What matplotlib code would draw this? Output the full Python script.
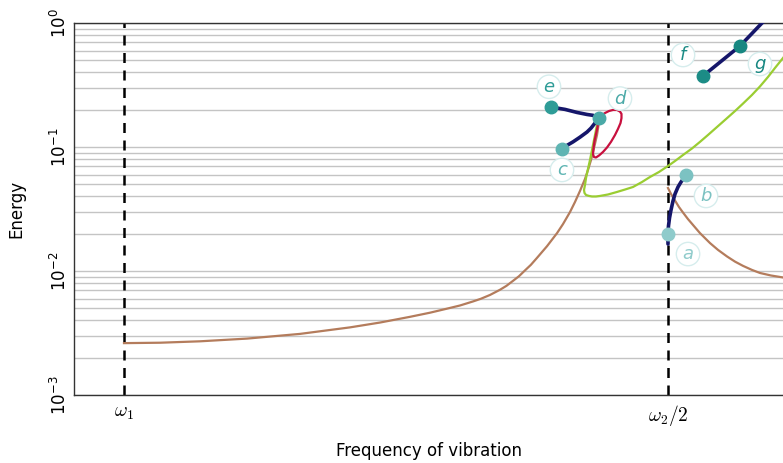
import matplotlib
matplotlib.use('Agg')
import matplotlib.pyplot as plt

# frequency in units of omega_1 (omega_1 = 1, omega_2/2 = 2)
branch_low_freq = [1.0000, 1.0662, 1.1397, 1.2261, 1.3235, 1.4154, 1.4706, 1.5257,
                   1.5625, 1.5938, 1.6176, 1.6415, 1.6560, 1.6728, 1.6912, 1.7030,
                   1.7151, 1.7260, 1.7371, 1.7480, 1.7592, 1.7776, 1.7960, 1.8070,
                   1.8199, 1.8290, 1.8382, 1.8474, 1.8529, 1.8585, 1.8640, 1.8695, 1.8732]
branch_low_energy = [0.00262, 0.00264, 0.00271, 0.00285, 0.00311, 0.00351, 0.00384, 0.00427,
                     0.00461, 0.00497, 0.00527, 0.00568, 0.00597, 0.00641, 0.00706, 0.00759,
                     0.00833, 0.00907, 0.01011, 0.01122, 0.01276, 0.01585, 0.0202, 0.0239,
                     0.0299, 0.0360, 0.0442, 0.0552, 0.0653, 0.0785, 0.0982, 0.125, 0.159]

branch_high_freq = [2.0000, 2.0055, 2.0129, 2.0202, 2.0276, 2.0368, 2.0460, 2.0588, 2.0772,
                    2.0919, 2.1085, 2.1232, 2.1379, 2.1544, 2.1691, 2.1893, 2.2114, 2.2426]
branch_high_energy = [0.0467, 0.0418, 0.0370, 0.0328, 0.0296, 0.0262, 0.0235, 0.0202, 0.0168,
                      0.0148, 0.0131, 0.0119, 0.0110, 0.0102, 0.00964, 0.00920, 0.00887, 0.00846]

fold_freq = [1.8713, 1.8676, 1.8640, 1.8603, 1.8566, 1.8529, 1.8493, 1.8474, 1.8456, 1.8465,
             1.8493, 1.8548, 1.8603, 1.8676, 1.8750, 1.8897, 1.9063, 1.9210, 1.9357, 1.9522,
             1.9669, 1.9835, 2.0000, 2.0129, 2.0276, 2.0441, 2.0588, 2.0735, 2.0901, 2.1066,
             2.1232, 2.1379, 2.1544, 2.1691, 2.1838, 2.1967, 2.2114, 2.2390]
fold_energy = [0.165, 0.137, 0.114, 0.0946, 0.0785, 0.0665, 0.0562, 0.0494, 0.0450, 0.0426,
               0.0410, 0.0403, 0.0399, 0.0399, 0.0403, 0.0414, 0.0434, 0.0454, 0.0476, 0.0522,
               0.0573, 0.0629, 0.0703, 0.0771, 0.0862, 0.0973, 0.110, 0.125, 0.145, 0.168,
               0.195, 0.224, 0.263, 0.308, 0.367, 0.434, 0.522, 0.757]

loop_freq = [1.8732, 1.8787, 1.8842, 1.8915, 1.8989, 1.9063, 1.9118, 1.9145, 1.9145, 1.9127,
             1.9081, 1.9026, 1.8952, 1.8879, 1.8805, 1.8732, 1.8676, 1.8640, 1.8621, 1.8631,
             1.8649, 1.8676, 1.8704, 1.8732]
loop_energy = [0.171, 0.181, 0.188, 0.195, 0.199, 0.199, 0.193, 0.185, 0.171, 0.156,
               0.140, 0.125, 0.110, 0.0991, 0.0912, 0.0854, 0.0823, 0.0830, 0.0878, 0.0982,
               0.112, 0.127, 0.145, 0.171]

path_ed_freq = [1.7849, 1.8107, 1.8327, 1.8511, 1.8621, 1.8732]
path_ed_energy = [0.210, 0.201, 0.190, 0.183, 0.180, 0.171]
path_cd_freq = [1.8051, 1.8143, 1.8254, 1.8382, 1.8511, 1.8585, 1.8658, 1.8732]
path_cd_energy = [0.0964, 0.103, 0.110, 0.120, 0.132, 0.142, 0.156, 0.171]
path_ab_freq = [2.0000, 2.0000, 2.0009, 2.0028, 2.0055, 2.0092, 2.0129, 2.0184, 2.0239,
                2.0294, 2.0331]
path_ab_energy = [0.0165, 0.0199, 0.0231, 0.0268, 0.0310, 0.0367, 0.0418, 0.0476, 0.0522,
                  0.0562, 0.0595]
path_fg_freq = [2.0643, 2.1324, 2.1728, 2.1967]
path_fg_energy = [0.374, 0.653, 1.0, 1.226]

point_names = ['a', 'b', 'c', 'd', 'e', 'f', 'g']
point_freq = [2.000, 2.0331, 1.8051, 1.8732, 1.7849, 2.0643, 2.1324]
point_energy = [0.0199, 0.0595, 0.0964, 0.171, 0.210, 0.374, 0.653]
point_colors = ['#8fcbcb', '#7cc2c2', '#5fb5b3', '#4aa9a7', '#2e9c97', '#1c8c86', '#178781']
label_freq = [2.0368, 2.0699, 1.8051, 1.9117, 1.7812, 2.0276, 2.1691]
label_energy = [0.0137, 0.0403, 0.0653, 0.246, 0.306, 0.552, 0.467]

tick_pos = [1, 2]
tick_labels = [r'$\omega_1$', r'$\omega_2/2$']

fig = plt.figure(figsize=(7.83, 4.63), dpi=100)
ax = fig.add_axes([74 / 783, 1 - 395 / 463, 1 - 74 / 783, 372 / 463])

ax.set_yscale('log')
ax.set_ylim(1e-3, 1)
ax.set_xlim(0.9081, 2.2114)

ax.grid(True, which='both', axis='y', color='#c4c4c4', linewidth=1.0)
ax.grid(False, axis='x')
ax.set_axisbelow(True)

for x in tick_pos:
    ax.axvline(x, color='black', linestyle=(0, (4, 3)), linewidth=1.8, zorder=2)

brown = '#b47c5c'
ax.plot(branch_low_freq, branch_low_energy, color=brown, linewidth=1.6, zorder=3)
ax.plot(branch_high_freq, branch_high_energy, color=brown, linewidth=1.6, zorder=3)
ax.plot(fold_freq, fold_energy, color='#9acd32', linewidth=1.6, zorder=3)
ax.plot(loop_freq, loop_energy, color='#c8103e', linewidth=1.6, zorder=3)

navy = '#15166a'
for fx, fy in [(path_ed_freq, path_ed_energy), (path_cd_freq, path_cd_energy),
               (path_ab_freq, path_ab_energy), (path_fg_freq, path_fg_energy)]:
    ax.plot(fx, fy, color=navy, linewidth=2.6, zorder=4, solid_capstyle='round')

for name, x, y, c, lx, ly in zip(point_names, point_freq, point_energy, point_colors,
                                 label_freq, label_energy):
    ax.plot(x, y, 'o', color=c, markersize=9, zorder=5)
    ax.text(lx, ly, name, color=c, fontsize=13, style='italic', ha='center', va='center',
            zorder=6,
            bbox=dict(boxstyle='circle,pad=0.15', facecolor='white', edgecolor='#d6eded',
                      linewidth=1.0))

ax.set_xticks(tick_pos)
ax.set_xticklabels(tick_labels, math_fontfamily='cm', fontsize=14)
ax.tick_params(axis='x', length=0, pad=6)
ax.tick_params(axis='y', which='both', length=0, labelsize=12, pad=3)
for lab in ax.get_yticklabels():
    lab.set_rotation(90)
    lab.set_va('center')

for side in ['left', 'bottom', 'top']:
    ax.spines[side].set_color('#333333')
    ax.spines[side].set_linewidth(1.0)
ax.spines['right'].set_visible(False)

ax.set_ylabel('Energy', fontsize=12)
ax.yaxis.set_label_coords(-0.068, 0.5)
ax.set_xlabel('Frequency of vibration', fontsize=12)
ax.xaxis.set_label_coords(0.501, -0.127)

fig.savefig('out.png', dpi=100)
